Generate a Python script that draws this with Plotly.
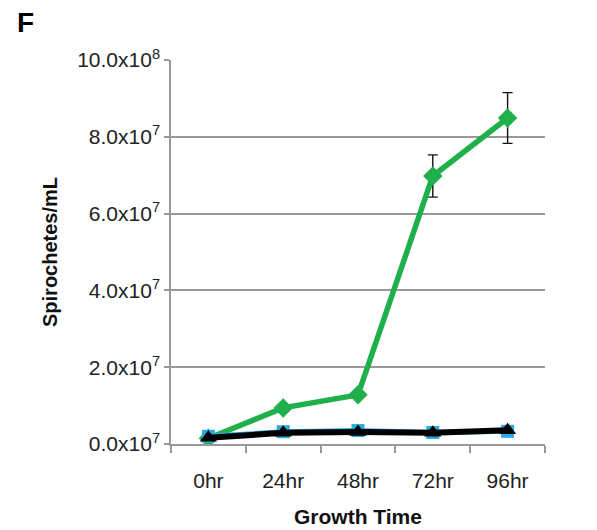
import plotly.graph_objects as go

# Growth time points
times = ["0hr", "24hr", "48hr", "72hr", "96hr"]

# Spirochete counts per mL
green_vals = [0.15e7, 0.94e7, 1.28e7, 6.98e7, 8.49e7]
green_err = [0.0, 0.0, 0.0, 0.55e7, 0.66e7]
blue_vals = [0.20e7, 0.32e7, 0.35e7, 0.30e7, 0.33e7]
black_vals = [0.16e7, 0.29e7, 0.31e7, 0.29e7, 0.36e7]

# Y-axis ticks and their labels
y_ticks = [0, 2e7, 4e7, 6e7, 8e7, 1e8]
y_labels = ["0.0x10<sup>7</sup>", "2.0x10<sup>7</sup>", "4.0x10<sup>7</sup>",
            "6.0x10<sup>7</sup>", "8.0x10<sup>7</sup>", "10.0x10<sup>8</sup>"]

FONT = "Liberation Sans, Arial, sans-serif"

# plot area in pixels
L, R, T, B = 171, 52, 60, 86
W, H = 597, 530
PW, PH = W - L - R, H - T - B


def px_x(x):
    return (x - L) / PW


def px_y(y):
    return (H - B - y) / PH


fig = go.Figure()

fig.add_trace(go.Scatter(
    x=times, y=green_vals, mode="lines+markers",
    line=dict(color="#1fb04c", width=5.5),
    marker=dict(symbol="diamond", size=15, color="#1fb04c"),
    error_y=dict(type="data", array=green_err, visible=True,
                 color="#111111", thickness=1.4, width=5),
    showlegend=False,
))
fig.add_trace(go.Scatter(
    x=times, y=blue_vals, mode="lines+markers",
    line=dict(color="#29abe2", width=5),
    marker=dict(symbol="square", size=13, color="#29abe2"),
    showlegend=False,
))
fig.add_trace(go.Scatter(
    x=times, y=black_vals, mode="lines+markers",
    line=dict(color="#000000", width=6),
    marker=dict(symbol="triangle-up", size=15, color="#000000"),
    showlegend=False,
))

fig.update_layout(
    width=W, height=H,
    margin=dict(l=L, r=R, t=T, b=B),
    paper_bgcolor="white", plot_bgcolor="white",
    font=dict(family=FONT, color="#222222", size=21),
    xaxis=dict(
        type="category", range=[-0.5, 4.5],
        showline=True, linecolor="#999999", linewidth=1.5,
        ticks="outside", tickson="boundaries", ticklen=7,
        tickcolor="#999999", tickwidth=1.5,
        showgrid=False, tickfont=dict(size=21),
        ticklabelstandoff=17,
    ),
    yaxis=dict(
        range=[0, 1e8], tickvals=y_ticks, ticktext=y_labels,
        showline=True, linecolor="#999999", linewidth=1.5,
        ticks="outside", ticklen=5, tickcolor="#999999", tickwidth=1.5,
        showgrid=True, gridcolor="#999999", gridwidth=1.5,
        zeroline=False, tickfont=dict(size=21),
    ),
    annotations=[
        dict(text="<b>F</b>", x=px_x(25), y=px_y(22),
             xanchor="center", yanchor="middle",
             xref="paper", yref="paper", showarrow=False,
             font=dict(size=28, color="#000000")),
        dict(text="<b>Spirochetes/mL</b>", x=px_x(50), y=0.5,
             xanchor="center", yanchor="middle",
             xref="paper", yref="paper", textangle=-90, showarrow=False,
             font=dict(size=20, color="#111111")),
        dict(text="<b>Growth Time</b>", x=0.5, y=px_y(516),
             xanchor="center", yanchor="middle",
             xref="paper", yref="paper", showarrow=False,
             font=dict(size=21, color="#111111")),
    ],
)

fig.write_html("out.html")
